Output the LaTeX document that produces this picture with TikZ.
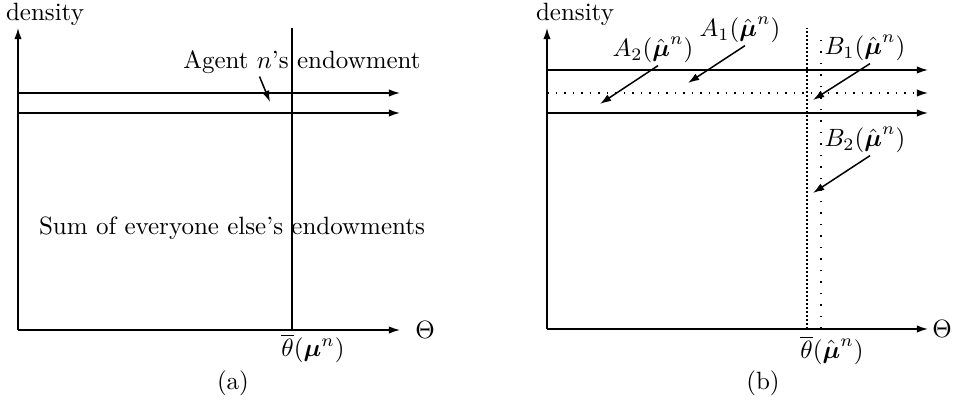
\documentclass[tikz,border=0pt]{standalone}
\usepackage{amsmath}
\usepackage{amssymb}
\usetikzlibrary{arrows.meta, calc}

\begin{document}
\begin{tikzpicture}[
  x=0.40pt, y=0.40pt,
  axis/.style={-{Latex[length=4.5pt,width=3pt]}, semithick},
  level/.style={-{Latex[length=4.5pt,width=3pt]}, semithick},
  pointer/.style={-{Latex[length=4.5pt,width=3pt]}, semithick},
  dotlevel/.style={level, dash pattern=on 0.6pt off 2.8pt},
  cutdense/.style={semithick, densely dotted},
  cutloose/.style={semithick, dash pattern=on 0.6pt off 4pt},
  lbl/.style={inner sep=1pt}
]
  \useasboundingbox (0,0) rectangle (956,404);

  % --- Panel (a) ---
  \begin{scope}[shift={(18,74)}]
    \coordinate (oa) at (0,0);
    \draw[axis] (oa) -- (0,302);
    \draw[axis] (oa) -- (382,0);
    \foreach \h in {237,217}
      \draw[level] (0,\h) -- (382,\h);
    \draw[semithick] (274,0) -- (274,302);

    \node[lbl] (densa)  at (27,316)  {density};
    \node[lbl] (thetaa) at (407,0)   {$\Theta$};
    \node[lbl] (bara)   at (295,-18) {$\overline{\theta}(\boldsymbol{\mu}^n)$};
    \node[lbl] (capa)   at (215,-53) {(a)};
    \node[lbl] (agent)  at (284,268) {Agent $n$'s endowment};
    \node[lbl] (others) at (214,102) {Sum of everyone else's endowments};

    \coordinate (agenttip) at (252,228);
    \draw[pointer] ([xshift=-17pt]agent.south) -- (agenttip);
  \end{scope}

  % --- Panel (b) ---
  \begin{scope}[shift={(547,75)}]
    \coordinate (ob) at (0,0);
    \draw[axis] (ob) -- (0,301);
    \draw[axis] (ob) -- (381,0);
    \foreach \h in {259,216}
      \draw[level] (0,\h) -- (381,\h);
    \draw[dotlevel] (0,236) -- (381,236);
    \draw[cutdense] (260,0) -- (260,301);
    \draw[cutloose] (274,0) -- (274,296);

    \node[lbl] (densb)  at (28,315)  {density};
    \node[lbl] (thetab) at (395,0)   {$\Theta$};
    \node[lbl] (barb)   at (285,-21) {$\overline{\theta}(\hat{\boldsymbol{\mu}}^n)$};
    \node[lbl] (capb)   at (216,-54) {(b)};

    \node[lbl] (A1) at (193,299) {$A_1(\hat{\boldsymbol{\mu}}^n)$};
    \node[lbl] (A2) at (106,279) {$A_2(\hat{\boldsymbol{\mu}}^n)$};
    \node[lbl] (B1) at (318,281) {$B_1(\hat{\boldsymbol{\mu}}^n)$};
    \node[lbl] (B2) at (318,189) {$B_2(\hat{\boldsymbol{\mu}}^n)$};

    % pointer tips
    \coordinate (a1tip) at (141,246);
    \coordinate (a2tip) at (53,225);
    \coordinate (b1tip) at (266,229);
    \coordinate (b2tip) at (266,136);
    \foreach \n/\t in {A1/a1tip, A2/a2tip, B1/b1tip, B2/b2tip}
      \draw[pointer] ([xshift=2pt]\n.south) -- (\t);
  \end{scope}

\end{tikzpicture}
\end{document}
